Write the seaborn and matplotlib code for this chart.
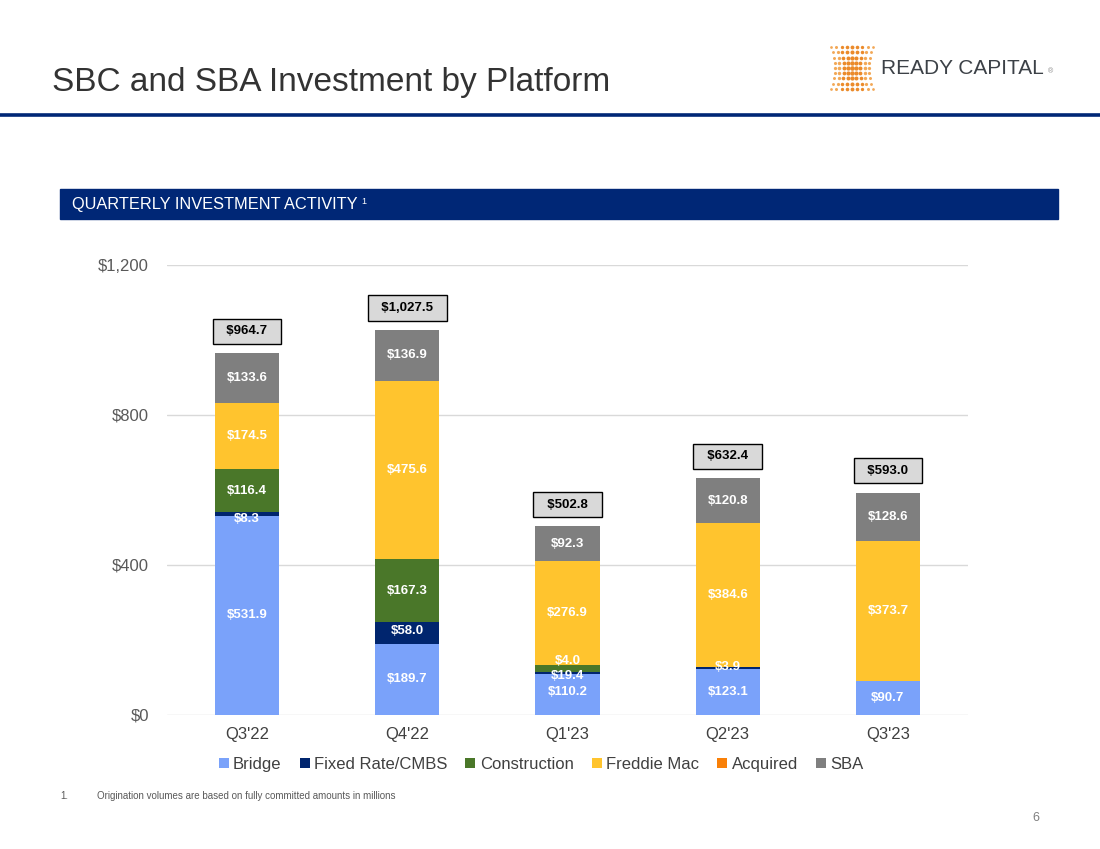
import numpy as np
import pandas as pd
import seaborn as sns
import matplotlib.pyplot as plt
from matplotlib.patches import Rectangle

# quarterly investment activity, $ millions
quarters = ["Q3'22", "Q4'22", "Q1'23", "Q2'23", "Q3'23"]
series = ["Bridge", "Fixed Rate/CMBS", "Construction", "Freddie Mac", "Acquired", "SBA"]
bridge = [531.9, 189.7, 110.2, 123.1, 90.7]
fixed_rate = [8.3, 58.0, 4.0, 3.9, 0.0]
construction = [116.4, 167.3, 19.4, 0.0, 0.0]
freddie_mac = [174.5, 475.6, 276.9, 384.6, 373.7]
acquired = [0.0, 0.0, 0.0, 0.0, 0.0]
sba = [133.6, 136.9, 92.3, 120.8, 128.6]
totals = [964.7, 1027.5, 502.8, 632.4, 593.0]

colors = ["#7AA2FA", "#00256E", "#4A7729", "#FFC42E", "#F98008", "#7F7F7F"]
navy = "#002776"

# label nudges (value units) where the original moved crowded labels
label_nudge = {(0, 1): -13, (2, 0): 6, (2, 1): 32, (2, 2): -20, (1, 1): 5, (3, 1): 3}

df = pd.DataFrame({"quarter": quarters, "Bridge": bridge, "Fixed Rate/CMBS": fixed_rate,
                   "Construction": construction, "Freddie Mac": freddie_mac,
                   "Acquired": acquired, "SBA": sba})
cum = df[series].cumsum(axis=1)

sns.set_style("white")
plt.rcParams["font.family"] = ["Liberation Sans", "DejaVu Sans"]

fig = plt.figure(figsize=(11, 8.49), dpi=100)
W, H = 1100, 849

def px(x, y):
    return x / W, 1 - y / H

# title and rule
fig.text(*px(52, 83), "SBC and SBA Investment by Platform", fontsize=24, color="#333333", va="center")
fig.add_artist(plt.Line2D([0, 1], [1 - 115 / H] * 2, color=navy, lw=2.6))

# header band
fig.add_artist(Rectangle(px(60, 219), 998 / W, 30 / H, color=navy, transform=fig.transFigure))
fig.text(*px(72, 205), "QUARTERLY INVESTMENT ACTIVITY", fontsize=11.8, color="white", va="center")
fig.text(*px(361, 201), "1", fontsize=6.5, color="white", va="center")

# logo
lax = fig.add_axes([828 / W, 1 - 92 / H, 48 / W, 48 / H])
for c in np.linspace(-1, 1, 9):
    for r in np.linspace(-1, 1, 9):
        xx = c * (1 - 0.2 * (1 - r ** 2))
        s = 11 * (1 - 0.5 * abs(c)) * (1 - 0.3 * abs(r))
        lax.scatter(xx, r, s=s, color="#F2A857" if abs(c) > 0.5 else "#EB8A2A", lw=0)
lax.set_xlim(-1.15, 1.15)
lax.set_ylim(-1.15, 1.15)
lax.axis("off")
fig.text(*px(881, 68), "READY CAPITAL", fontsize=15, color="#3C4147", va="center")
fig.text(*px(1048, 72), "®", fontsize=5, color="#888888", va="center")

# chart
ax = fig.add_axes([167 / W, 1 - 715 / H, 801 / W, 450 / H])
for i in range(len(series) - 1, -1, -1):
    sns.barplot(x=df["quarter"], y=cum[series[i]], color=colors[i], width=0.4,
                saturation=1, ax=ax, label=series[i], zorder=3, edgecolor="none", linewidth=0)

for q in range(len(quarters)):
    base = 0
    for i, name in enumerate(series):
        v = df[name][q]
        if v > 0:
            y = base + v / 2 + label_nudge.get((q, i), 0)
            ax.text(q, y, f"${v:,.1f}", ha="center", va="center", color="white",
                    fontsize=9.5, fontweight="bold", zorder=5)
        base += v
    ax.text(q, totals[q] + 58, f"  ${totals[q]:,.1f}  ", ha="center", va="center",
            fontsize=9.5, fontweight="bold", color="black", zorder=5,
            bbox=dict(boxstyle="square,pad=0.5", fc="#D9D9D9", ec="black", lw=1))

ax.set_ylim(0, 1200)
ax.set_xlim(-0.5, 4.5)
ax.set_yticks([0, 400, 800, 1200])
ax.set_yticklabels([f"${t:,.0f}" for t in [0, 400, 800, 1200]])
ax.yaxis.grid(True, color="#D9D9D9", lw=1, zorder=0)
ax.set_axisbelow(True)
ax.tick_params(axis="y", labelsize=12, labelcolor="#595959", length=0, pad=13)
ax.tick_params(axis="x", labelsize=12, labelcolor="#404040", length=0, pad=9)
ax.set_xlabel("")
ax.set_ylabel("")
sns.despine(ax=ax, left=True, bottom=True, top=True, right=True)

handles, labels = ax.get_legend_handles_labels()
order = [labels.index(s) for s in series]
ax.legend([handles[k] for k in order], series, loc="upper center",
          bbox_to_anchor=(0.467, -0.06), ncol=6, frameon=False, fontsize=12,
          handlelength=0.6, handleheight=0.6, handletextpad=0.25, columnspacing=1.1,
          labelcolor="#404040")

fig.text(*px(60, 796), "1.", fontsize=7, color="#595959", va="center")
fig.text(*px(97, 796), "Origination volumes are based on fully committed amounts in millions",
         fontsize=7, color="#595959", va="center")
fig.text(*px(1036, 818), "6", fontsize=9, color="#7F7F7F", va="center", ha="center")

fig.savefig("out.png", dpi=100)
